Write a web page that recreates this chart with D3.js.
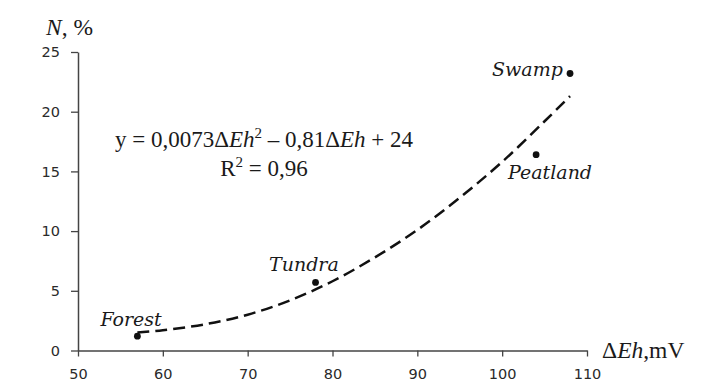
<!DOCTYPE html>
<html><head><meta charset="utf-8">
<script src="https://cdn.jsdelivr.net/npm/d3@7"></script>
<style>
html,body{margin:0;padding:0;background:#fff;}
svg{display:block;}
.tick text{font-family:"DejaVu Sans",Verdana,sans-serif;font-size:14.5px;fill:#2a2a2a;}
.serif{font-family:"Liberation Serif","Times New Roman",serif;fill:#1a1a1a;}
.lbl{font-family:"DejaVu Serif",serif;font-style:italic;fill:#1a1a1a;}
</style></head>
<body>
<svg id="chart" width="717" height="392"></svg>
<script>
// Data
const sites = ["Forest", "Tundra", "Peatland", "Swamp"];
const deltaEh = [57, 78, 104, 108];
const nPercent = [1.2, 5.7, 16.4, 23.2];
// Trend curve
const trendX = [57, 60, 65, 70, 75, 80, 85, 90, 95, 100, 105, 108];
const trendY = [1.5, 1.7, 2.2, 3.0, 4.2, 5.8, 7.8, 10.1, 12.8, 15.8, 19.2, 21.3];
const xTicks = [50, 60, 70, 80, 90, 100, 110];
const yTicks = [0, 5, 10, 15, 20, 25];

const svg = d3.select("#chart");
const x = d3.scaleLinear().domain([50, 110]).range([78, 587]);
const y = d3.scaleLinear().domain([0, 25]).range([350.5, 52]);

// axes
const xAxis = d3.axisBottom(x).tickValues(xTicks).tickSize(6).tickPadding(12).tickSizeOuter(0);
const yAxis = d3.axisLeft(y).tickValues(yTicks).tickSize(7).tickPadding(11).tickSizeOuter(0);
const gx = svg.append("g").attr("transform", `translate(0,${y(0)})`).call(xAxis);
const gy = svg.append("g").attr("transform", `translate(${x(50)},0)`).call(yAxis);
[gx, gy].forEach(g => {
  g.select(".domain").attr("stroke", "#444").attr("stroke-width", 1.5);
  g.selectAll(".tick line").attr("stroke", "#444").attr("stroke-width", 1.3);
});

// trend line
const line = d3.line().x(d => x(d[0])).y(d => y(d[1])).curve(d3.curveCatmullRom);
svg.append("path")
  .datum(trendX.map((v, i) => [v, trendY[i]]))
  .attr("d", line)
  .attr("fill", "none")
  .attr("stroke", "#111")
  .attr("stroke-width", 2.5)
  .attr("stroke-dasharray", "12,6");

// points
const pts = sites.map((s, i) => ({ name: s, x: deltaEh[i], y: nPercent[i] }));
svg.selectAll("circle.pt").data(pts).enter().append("circle")
  .attr("class", "pt")
  .attr("cx", d => x(d.x)).attr("cy", d => y(d.y)).attr("r", 3.4)
  .attr("fill", "#111");

// labels
const labelOffsets = {
  Forest: { dx: -37, dy: -10 },
  Tundra: { dx: -46.5, dy: -11 },
  Peatland: { dx: -28, dy: 24 },
  Swamp: { dx: -78, dy: 3 }
};
svg.selectAll("text.lbl").data(pts).enter().append("text")
  .attr("class", "lbl")
  .attr("x", d => x(d.x) + labelOffsets[d.name].dx)
  .attr("y", d => y(d.y) + labelOffsets[d.name].dy)
  .attr("font-size", 19)
  .text(d => d.name);

// axis titles
const yt = svg.append("text").attr("class", "serif").attr("x", 46).attr("y", 35).attr("font-size", 23.5);
yt.append("tspan").attr("font-style", "italic").text("N");
yt.append("tspan").text(", %");

const xt = svg.append("text").attr("class", "serif").attr("x", 602).attr("y", 358).attr("font-size", 23.5);
xt.append("tspan").text("Δ");
xt.append("tspan").attr("font-style", "italic").text("Eh");
xt.append("tspan").text(",mV");

// equation
const eq = svg.append("text").attr("class", "serif").attr("x", 264).attr("y", 147)
  .attr("text-anchor", "middle").attr("font-size", 23);
eq.append("tspan").text("y = 0,0073Δ");
eq.append("tspan").attr("font-style", "italic").text("Eh");
eq.append("tspan").attr("font-size", 15).attr("dy", -9).text("2");
eq.append("tspan").attr("dy", 9).text(" – 0,81Δ");
eq.append("tspan").attr("font-style", "italic").text("Eh");
eq.append("tspan").text(" + 24");

const r2 = svg.append("text").attr("class", "serif").attr("x", 264).attr("y", 176)
  .attr("text-anchor", "middle").attr("font-size", 23);
r2.append("tspan").text("R");
r2.append("tspan").attr("font-size", 15).attr("dy", -9).text("2");
r2.append("tspan").attr("dy", 9).text(" = 0,96");
</script>
</body></html>
